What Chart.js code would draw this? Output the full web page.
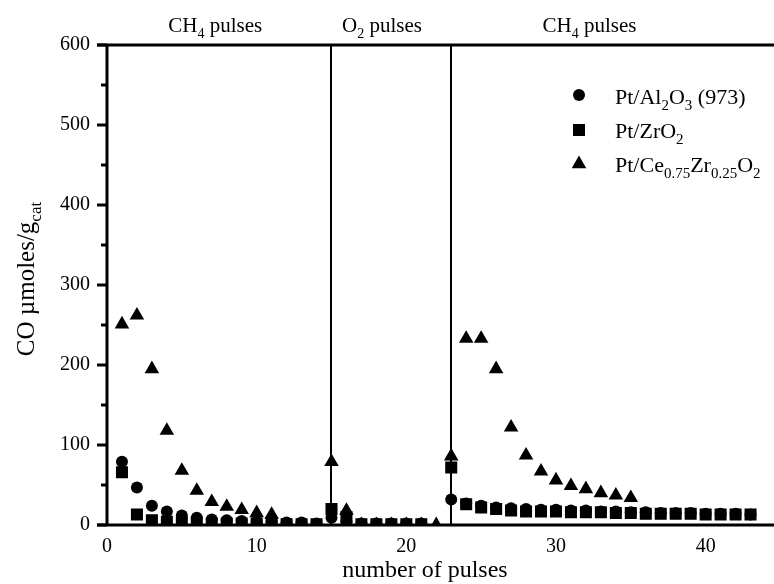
<!DOCTYPE html>
<html>
<head>
<meta charset="utf-8">
<script src="https://cdn.jsdelivr.net/npm/chart.js@4.4.0/dist/chart.umd.min.js"></script>
<style>
  html, body { margin: 0; padding: 0; background: #fff; }
  #wrap { width: 774px; height: 584px; }
</style>
</head>
<body>
<div id="wrap"><canvas id="pulseChart" width="774" height="584"></canvas></div>
<script>
// pulse number for every measurement
const pulses = [1, 2, 3, 4, 5, 6, 7, 8, 9, 10, 11, 12, 13, 14, 15, 16, 17, 18, 19, 20, 21, 22,
                23, 24, 25, 26, 27, 28, 29, 30, 31, 32, 33, 34, 35, 36, 37, 38, 39, 40, 41, 42, 43];

// CO produced per pulse (umol / g cat), null = no point
const alumina = [79, 47, 24, 17, 12, 9, 7, 6, 5, 4, 4, 3, 3, 2, 9, 4, 2, 2, 2, 2, 2, null,
                 32, 27, 24, 22, 21, 20, 19, 19, 18, 18, 17, 17, 16, 16, 15, 15, 15, 14, 14, 14, 13];
const zirconia = [66, 13, 6, 4, 3, 3, 2, 2, 2, 2, 2, 1, 1, 1, 20, 10, 1, 1, 1, 1, 1, null,
                  72, 26, 22, 20, 18, 17, 17, 17, 16, 16, 16, 15, 15, 14, 14, 14, 14, 13, 13, 13, 13];
const ceriaZirconia = [251, 262, 195, 118, 68, 43, 29, 23, 19, 15, 13, null, null, null, 79, 18, 0, 0, 0, 0, 0, 0,
                       86, 233, 233, 195, 122, 87, 67, 56, 49, 45, 40, 37, 34, null, null, null, null, null, null, null, null];

const seriesNames = [
  [['Pt/Al', 0], ['2', 1], ['O', 0], ['3', 1], [' (973)', 0]],
  [['Pt/ZrO', 0], ['2', 1]],
  [['Pt/Ce', 0], ['0.75', 1], ['Zr', 0], ['0.25', 1], ['O', 0], ['2', 1]]
];
const seriesStyles = ['circle', 'rect', 'triangle'];

const yTicks = [0, 100, 200, 300, 400, 500, 600];
const xTicks = [0, 10, 20, 30, 40];
const switchPulses = [15, 23];
const phaseLabels = [
  { at: 4.1, parts: [['CH', 0], ['4', 1], [' pulses', 0]] },
  { at: 15.7, parts: [['O', 0], ['2', 1], [' pulses', 0]] },
  { at: 29.1, parts: [['CH', 0], ['4', 1], [' pulses', 0]] }
];

const FONT = "'Liberation Serif', 'DejaVu Serif', serif";

function toPoints(values) {
  const pts = [];
  values.forEach((v, i) => {
    if (v !== null) pts.push({ x: pulses[i], y: v });
  });
  return pts;
}

// text with subscripts: parts = [[text, isSub], ...]
function partsWidth(ctx, parts, size) {
  let w = 0;
  parts.forEach(([t, sub]) => {
    ctx.font = (sub ? Math.round(size * 0.68) : size) + 'px ' + FONT;
    w += ctx.measureText(t).width;
  });
  return w;
}

function drawParts(ctx, parts, x, y, size) {
  ctx.textAlign = 'left';
  ctx.textBaseline = 'alphabetic';
  parts.forEach(([t, sub]) => {
    ctx.font = (sub ? Math.round(size * 0.68) : size) + 'px ' + FONT;
    ctx.fillText(t, x, sub ? y + size * 0.28 : y);
    x += ctx.measureText(t).width;
  });
}

function drawMarker(ctx, style, x, y, r) {
  ctx.beginPath();
  if (style === 'circle') {
    ctx.arc(x, y, r, 0, Math.PI * 2);
  } else if (style === 'rect') {
    const s = r * Math.SQRT1_2;
    ctx.rect(x - s, y - s, 2 * s, 2 * s);
  } else {
    ctx.moveTo(x, y - r);
    ctx.lineTo(x + r * Math.sin(Math.PI * 2 / 3), y - r * Math.cos(Math.PI * 2 / 3));
    ctx.lineTo(x - r * Math.sin(Math.PI * 2 / 3), y - r * Math.cos(Math.PI * 2 / 3));
    ctx.closePath();
  }
  ctx.fill();
}

const pointRadius = { circle: 6, rect: 8.5, triangle: 8.4 };

const framePlugin = {
  id: 'frame',
  beforeDatasetsDraw(chart) {
    const ctx = chart.ctx;
    const area = chart.chartArea;
    const xs = chart.scales.x;
    ctx.save();
    ctx.strokeStyle = '#000';
    ctx.lineWidth = 2;
    switchPulses.forEach(p => {
      const px = Math.round(xs.getPixelForValue(p));
      ctx.beginPath();
      ctx.moveTo(px, area.top);
      ctx.lineTo(px, area.bottom);
      ctx.stroke();
    });
    ctx.restore();
  },
  afterDraw(chart) {
    const ctx = chart.ctx;
    const area = chart.chartArea;
    const xs = chart.scales.x;
    const ys = chart.scales.y;
    ctx.save();
    ctx.strokeStyle = '#000';
    ctx.fillStyle = '#000';
    ctx.lineWidth = 3;

    // axes and top border
    ctx.beginPath();
    ctx.moveTo(area.left, area.top);
    ctx.lineTo(area.left, area.bottom);
    ctx.moveTo(area.left - 10, area.bottom);
    ctx.lineTo(chart.width, area.bottom);
    ctx.moveTo(area.left - 10, area.top);
    ctx.lineTo(chart.width, area.top);
    ctx.stroke();

    // y tick marks, minor ones halfway
    for (let v = 0; v <= 600; v += 50) {
      const py = ys.getPixelForValue(v);
      const len = v % 100 === 0 ? 10 : 6;
      ctx.beginPath();
      ctx.moveTo(area.left - len, py);
      ctx.lineTo(area.left, py);
      ctx.stroke();
    }

    // phase labels above the frame
    phaseLabels.forEach(l => {
      drawParts(ctx, l.parts, xs.getPixelForValue(l.at), area.top - 13, 21);
    });

    // legend
    const rows = [95, 130, 164];
    const baselines = [104, 138, 172];
    seriesNames.forEach((parts, i) => {
      drawMarker(ctx, seriesStyles[i], 579, rows[i], pointRadius[seriesStyles[i]]);
      drawParts(ctx, parts, 615, baselines[i], 22);
    });

    // y axis title, rotated
    const yTitle = [['CO \u00b5moles/g', 0], ['cat', 1]];
    const tw = partsWidth(ctx, yTitle, 25);
    ctx.translate(34, 279);
    ctx.rotate(-Math.PI / 2);
    drawParts(ctx, yTitle, -tw / 2, 0, 25);
    ctx.setTransform(1, 0, 0, 1, 0, 0);

    // x axis title
    ctx.font = '24px ' + FONT;
    ctx.textAlign = 'center';
    ctx.textBaseline = 'alphabetic';
    ctx.fillText('number of pulses', 425, 577);
    ctx.restore();
  }
};

new Chart(document.getElementById('pulseChart'), {
  type: 'scatter',
  data: {
    datasets: [
      { label: 'Pt/Al2O3 (973)', data: toPoints(alumina), pointStyle: 'circle' },
      { label: 'Pt/ZrO2', data: toPoints(zirconia), pointStyle: 'rect' },
      { label: 'Pt/Ce0.75Zr0.25O2', data: toPoints(ceriaZirconia), pointStyle: 'triangle' }
    ].map(ds => Object.assign(ds, {
      pointRadius: pointRadius[ds.pointStyle],
      pointHoverRadius: pointRadius[ds.pointStyle],
      pointBackgroundColor: '#000',
      pointBorderColor: '#000',
      pointBorderWidth: 0,
      showLine: false
    }))
  },
  options: {
    responsive: false,
    animation: false,
    layout: { padding: { top: 45, right: 7, left: 0, bottom: 0 } },
    plugins: {
      legend: { display: false },
      tooltip: { enabled: false }
    },
    scales: {
      x: {
        type: 'linear',
        min: 0,
        max: 44,
        grid: { display: false, drawTicks: false },
        border: { display: false },
        ticks: {
          stepSize: 10,
          padding: 10,
          color: '#000',
          font: { family: FONT, size: 20 }
        },
        afterBuildTicks: scale => {
          scale.ticks = xTicks.map(v => ({ value: v }));
        },
        afterFit: scale => { scale.height = 59; }
      },
      y: {
        min: 0,
        max: 600,
        grid: { display: false, drawTicks: false },
        border: { display: false },
        ticks: {
          stepSize: 100,
          padding: 17,
          color: '#000',
          font: { family: FONT, size: 20 }
        },
        afterBuildTicks: scale => {
          scale.ticks = yTicks.map(v => ({ value: v }));
        },
        afterFit: scale => { scale.width = 107; }
      }
    }
  },
  plugins: [framePlugin]
});
</script>
</body>
</html>
